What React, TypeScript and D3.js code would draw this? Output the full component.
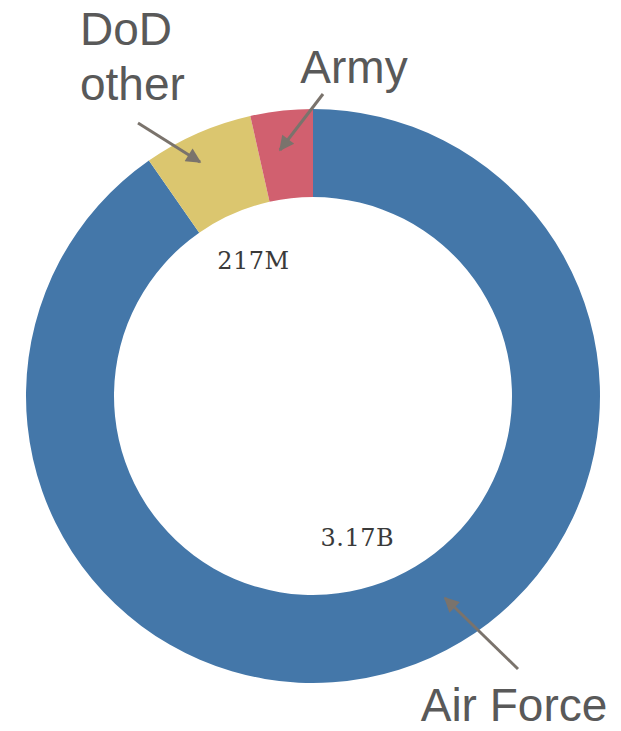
import { useEffect, useRef } from 'react';
import * as d3 from 'd3';

// slices, clockwise from 12 o'clock (values in millions)
const categories = ['Air Force', 'DoD other', 'Army'];
const values = [3170, 217, 123];
const valueLabels = ['3.17B', '217M', ''];
const colors = ['#4477a9', '#dbc66f', '#d1606f'];

export default function App() {
  const svgRef = useRef<SVGSVGElement>(null);

  useEffect(() => {
    if (!svgRef.current) return;
    const width = 621;
    const height = 731;
    const cx = 313;
    const cy = 396;
    const outerR = 287;
    const innerR = 199;

    const root = d3.select(svgRef.current);
    root.selectAll('*').remove();
    root.attr('width', width).attr('height', height).attr('viewBox', `0 0 ${width} ${height}`);

    root.append('rect').attr('width', width).attr('height', height).attr('fill', '#fff');

    const defs = root.append('defs');
    defs
      .append('marker')
      .attr('id', 'arrowhead')
      .attr('viewBox', '0 0 10 10')
      .attr('refX', 9)
      .attr('refY', 5)
      .attr('markerWidth', 6)
      .attr('markerHeight', 5)
      .attr('markerUnits', 'strokeWidth')
      .attr('orient', 'auto')
      .append('path')
      .attr('d', 'M0,0 L10,5 L0,10 Z')
      .attr('fill', '#7a736c');

    const data = categories.map((c, i) => ({ name: c, value: values[i], label: valueLabels[i], color: colors[i] }));
    const pie = d3.pie<(typeof data)[number]>().sort(null).value((d) => d.value);
    const arcs = pie(data);

    const arc = d3.arc<d3.PieArcDatum<(typeof data)[number]>>().innerRadius(innerR).outerRadius(outerR);
    const labelArc = d3.arc<d3.PieArcDatum<(typeof data)[number]>>().innerRadius(148).outerRadius(148);

    const g = root.append('g').attr('transform', `translate(${cx},${cy})`);

    g.selectAll('path.slice')
      .data(arcs)
      .join('path')
      .attr('class', 'slice')
      .attr('d', arc)
      .attr('fill', (d) => d.data.color);

    g.selectAll('text.value')
      .data(arcs.filter((d) => d.data.label !== ''))
      .join('text')
      .attr('class', 'value')
      .attr('transform', (d) => `translate(${labelArc.centroid(d)})`)
      .attr('text-anchor', 'middle')
      .attr('dy', '0.36em')
      .attr('font-family', '"DejaVu Serif", serif')
      .attr('font-size', '24px')
      .attr('letter-spacing', '0.5px')
      .attr('fill', '#3a3a3a')
      .text((d) => d.data.label);

    // callouts
    const callouts = [
      { lines: ['DoD', 'other'], x: 80, y: 45, anchor: 'start', from: [138, 123], to: [200, 162] },
      { lines: ['Army'], x: 354, y: 83, anchor: 'middle', from: [323, 94], to: [280, 150] },
      { lines: ['Air Force'], x: 514, y: 721, anchor: 'middle', from: [518, 669], to: [445, 598] },
    ];

    callouts.forEach((c) => {
      root
        .append('line')
        .attr('x1', c.from[0])
        .attr('y1', c.from[1])
        .attr('x2', c.to[0])
        .attr('y2', c.to[1])
        .attr('stroke', '#7a736c')
        .attr('stroke-width', 3)
        .attr('marker-end', 'url(#arrowhead)');
      c.lines.forEach((t, i) => {
        root
          .append('text')
          .attr('x', c.x)
          .attr('y', c.y + i * 55)
          .attr('text-anchor', c.anchor)
          .attr('font-family', '"Liberation Sans", Arial, sans-serif')
          .attr('font-size', '46px')
          .attr('fill', '#595959')
          .text(t);
      });
    });
  }, []);

  return <svg ref={svgRef} style={{ display: 'block', position: 'absolute', left: 0, top: 0 }} />;
}
